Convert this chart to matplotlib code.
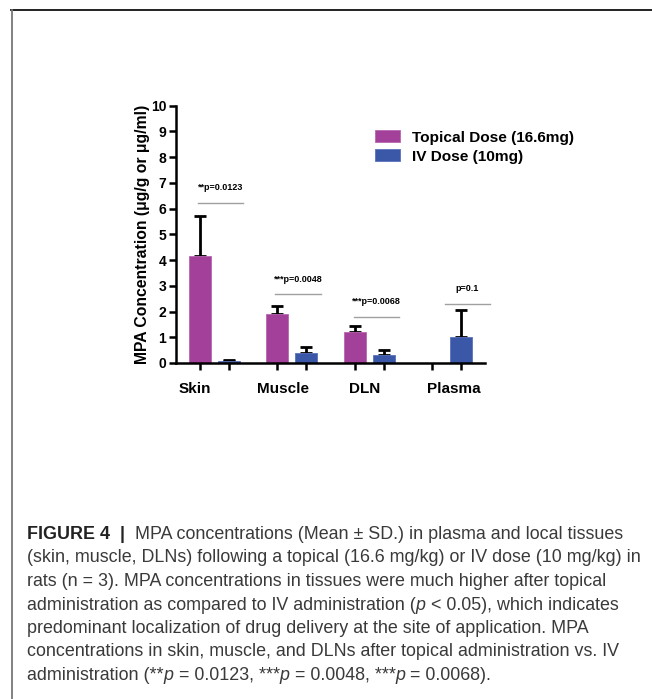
import matplotlib
matplotlib.use("Agg")
import matplotlib.pyplot as plt
import numpy as np
from matplotlib.lines import Line2D

plt.rcParams["font.family"] = ["Liberation Sans", "DejaVu Sans"]

# ---- data -------------------------------------------------------------
categories = ["Skin", "Muscle", "DLN", "Plasma"]
series_names = ["Topical Dose (16.6mg)", "IV Dose (10mg)"]
topical_mean = [4.14, 1.90, 1.22, 0.0]
topical_sd = [1.58, 0.30, 0.22, 0.0]
iv_mean = [0.08, 0.37, 0.32, 1.02]
iv_sd = [0.04, 0.27, 0.18, 1.04]
sig_labels = ["**p=0.0123", "***p=0.0048", "***p=0.0068", "p=0.1"]
sig_heights = [6.22, 2.68, 1.80, 2.30]
yticks = list(range(0, 11))

caption_lines = [
    [("FIGURE 4", "bold"), ("  |  ", "bold"),
     ("MPA concentrations (Mean \u00b1 SD.) in plasma and local tissues", "normal")],
    [("(skin, muscle, DLNs) following a topical (16.6 mg/kg) or IV dose (10 mg/kg) in", "normal")],
    [("rats (n = 3). MPA concentrations in tissues were much higher after topical", "normal")],
    [("administration as compared to IV administration (", "normal"), ("p", "italic"),
     (" < 0.05), which indicates", "normal")],
    [("predominant localization of drug delivery at the site of application. MPA", "normal")],
    [("concentrations in skin, muscle, and DLNs after topical administration vs. IV", "normal")],
    [("administration (**", "normal"), ("p", "italic"), (" = 0.0123, ***", "normal"),
     ("p", "italic"), (" = 0.0048, ***", "normal"), ("p", "italic"),
     (" = 0.0068).", "normal")],
]

# ---- figure -----------------------------------------------------------
W, H = 652, 699
fig = plt.figure(figsize=(W / 100, H / 100), dpi=100)
PT = 72 / 100  # points per pixel at this dpi


def px_box(x0, y_top, x1, y_bot):
    return [x0 / W, 1 - y_bot / H, (x1 - x0) / W, (y_bot - y_top) / H]


ax = fig.add_axes(px_box(176, 105.7, 485, 363))

topical_color = "#A2409A"
iv_color = "#3A57A8"

x = np.arange(len(categories))
offset = 0.188
width = 0.286

b1 = ax.bar(x - offset, topical_mean, width, color=topical_color,
            edgecolor="#B868B0", linewidth=0.6, label=series_names[0], zorder=2)
b2 = ax.bar(x + offset, iv_mean, width, color=iv_color,
            edgecolor="#5A74BC", linewidth=0.6, label=series_names[1], zorder=2)

for xs, m, s in [(x - offset, topical_mean, topical_sd), (x + offset, iv_mean, iv_sd)]:
    m = np.asarray(m)
    s = np.asarray(s)
    keep = s > 0
    ax.errorbar(xs[keep], m[keep], yerr=[np.zeros(keep.sum()), s[keep]],
                fmt="none", ecolor="black", elinewidth=2.0, capsize=4.3,
                capthick=2.0, zorder=1)

# significance brackets: start of each bracket relative to its group
bracket_start = [-0.214, -0.214, -0.20, -0.02]
bracket_len = 0.585
for i, (lab, h, s0) in enumerate(zip(sig_labels, sig_heights, bracket_start)):
    x0, x1 = i + s0, i + s0 + bracket_len
    ax.plot([x0, x1], [h, h], color="#A0A0A0", lw=1.0, clip_on=False, zorder=3)
    ax.annotate(lab, xy=((x0 + x1) / 2, h), xytext=(0, 15 * PT),
                textcoords="offset points", ha="center", va="center",
                fontsize=6.5, fontweight="bold", annotation_clip=False)

ax.set_xlim(-0.5, 3.5)
ax.set_ylim(0, 10)
ax.set_yticks(yticks)
ax.set_yticklabels([str(t) for t in yticks], fontsize=10, fontweight="bold")
ax.set_xticks(np.concatenate([x - offset, x + offset]))
ax.set_xticklabels([])
ax.tick_params(axis="both", direction="out", length=5, width=1.8, pad=2)

for side in ("top", "right"):
    ax.spines[side].set_visible(False)
for side in ("left", "bottom"):
    ax.spines[side].set_linewidth(1.8)

ax.set_ylabel("MPA Concentration (\u03bcg/g or \u03bcg/ml)", fontsize=11.3,
              fontweight="bold", labelpad=0.5)

# category labels under each pair
label_shift = [-0.25, -0.11, -0.06, 0.10]
for i, (cat, sh) in enumerate(zip(categories, label_shift)):
    ax.annotate(cat, xy=(i + sh, 0), xytext=(0, -26 * PT), textcoords="offset points",
                ha="center", va="center", fontsize=11, fontweight="bold",
                annotation_clip=False)

leg = ax.legend(handles=[b1, b2], loc="upper left",
                bbox_to_anchor=(375 / W, 1 - 130.5 / H),
                bbox_transform=fig.transFigure, frameon=False,
                prop={"weight": "bold", "size": 11.1}, handlelength=1.65,
                handleheight=0.8, handletextpad=0.75, labelspacing=0.3,
                borderpad=0, borderaxespad=0)

# ---- caption ----------------------------------------------------------
cap_color = "#3a3a3a"
baseline0 = 539
line_step = 23.5
cap_size = 12.9
line_texts = []
for li, segs in enumerate(caption_lines):
    yb = 1 - (baseline0 + li * line_step) / H
    row = []
    for text, style in segs:
        row.append(fig.text(27 / W, yb, text, ha="left", va="baseline",
                            fontsize=cap_size,
                            color="#222222" if style == "bold" else cap_color,
                            fontweight="bold" if style == "bold" else "normal",
                            fontstyle="italic" if style == "italic" else "normal"))
    line_texts.append(row)

# lay the segments of each caption line end to end
fig.canvas.draw()
renderer = fig.canvas.get_renderer()
for row in line_texts:
    x_cur = row[0].get_window_extent(renderer).x1
    for t in row[1:]:
        t.set_x(x_cur / W)
        x_cur = t.get_window_extent(renderer).x1

# ---- frame lines -------------------------------------------------------
fig.add_artist(Line2D([11 / W, 1], [1 - 9.5 / H, 1 - 9.5 / H],
                      transform=fig.transFigure, color="#111111", lw=1.3))
fig.add_artist(Line2D([11.5 / W, 11.5 / W], [1 - 9.5 / H, 0],
                      transform=fig.transFigure, color="#777777", lw=1.3))

fig.savefig("out.png", dpi=100)
